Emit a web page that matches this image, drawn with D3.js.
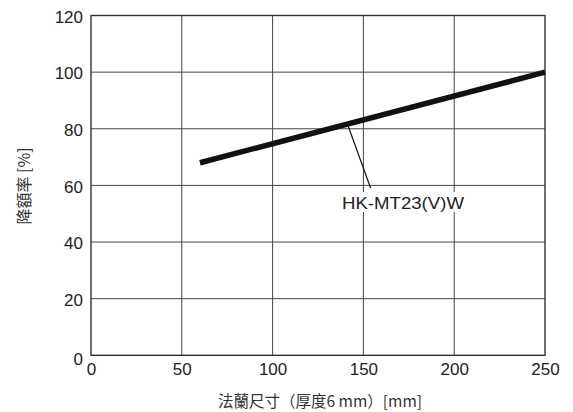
<!DOCTYPE html>
<html><head><meta charset="utf-8">
<script src="https://cdn.jsdelivr.net/npm/d3@7"></script>
<style>body{margin:0;background:#fff}svg{display:block}</style>
</head><body>
<div id="chart"></div>
<script>
const xTicks = [0, 50, 100, 150, 200, 250];
const yTicks = [0, 20, 40, 60, 80, 100, 120];
const seriesX = [60, 250];
const seriesY = [68, 100];
const seriesName = "HK-MT23(V)W";
const leaderX = [141.7, 154];
const leaderY = [80.8, 59];
const xTitle = "法蘭尺寸（厚度6 mm）[mm]";
const yTitle = "降額率 [%]";

const W = 573, H = 412;
const m = {left: 91, right: 28, top: 15.5, bottom: 56.7};
const svg = d3.select("#chart").append("svg").attr("width", W).attr("height", H);
const x = d3.scaleLinear().domain([0, 250]).range([m.left, W - m.right]);
const y = d3.scaleLinear().domain([0, 120]).range([H - m.bottom, m.top]);

const numFont = "'Liberation Sans', Arial, sans-serif";
const cjkFont = "'Noto Sans CJK TC', 'Noto Sans CJK SC', sans-serif";

// grid
svg.append("g").selectAll("line").data(xTicks.slice(1, -1)).join("line")
  .attr("x1", d => x(d)).attr("x2", d => x(d)).attr("y1", y(0)).attr("y2", y(120))
  .attr("stroke", "#444").attr("stroke-width", 1);
svg.append("g").selectAll("line").data(yTicks.slice(1, -1)).join("line")
  .attr("y1", d => y(d)).attr("y2", d => y(d)).attr("x1", x(0)).attr("x2", x(250))
  .attr("stroke", "#444").attr("stroke-width", 1);

// frame
svg.append("rect").attr("x", x(0)).attr("y", y(120))
  .attr("width", x(250) - x(0)).attr("height", y(0) - y(120))
  .attr("fill", "none").attr("stroke", "#333").attr("stroke-width", 1.4);

// axes labels via d3 axes
const xAxis = svg.append("g").attr("transform", `translate(0,${y(0)})`)
  .call(d3.axisBottom(x).tickValues(xTicks).tickSize(0).tickPadding(8).tickFormat(d3.format("d")));
xAxis.select(".domain").remove();
xAxis.attr("font-family", null).attr("font-size", null);
xAxis.selectAll("text").style("font-family", numFont).style("font-size", "17px").attr("fill", "#222");

const yAxis = svg.append("g").attr("transform", `translate(${x(0)},0)`)
  .call(d3.axisLeft(y).tickValues(yTicks).tickSize(0).tickPadding(8).tickFormat(d3.format("d")));
yAxis.select(".domain").remove();
yAxis.attr("font-family", null).attr("font-size", null);
yAxis.selectAll("text").style("font-family", numFont).style("font-size", "17px").attr("fill", "#222")
  .attr("dy", d => d === 0 ? "0.55em" : "0.4em");

// series line
svg.append("line")
  .attr("x1", x(seriesX[0])).attr("y1", y(seriesY[0]))
  .attr("x2", x(seriesX[1])).attr("y2", y(seriesY[1]))
  .attr("stroke", "#111").attr("stroke-width", 5.5);

// leader
svg.append("line")
  .attr("x1", x(leaderX[0])).attr("y1", y(leaderY[0]))
  .attr("x2", x(leaderX[1])).attr("y2", y(leaderY[1]))
  .attr("stroke", "#111").attr("stroke-width", 1.2);

svg.append("rect").attr("x", 340).attr("y", 192).attr("width", 126).attr("height", 20).attr("fill", "#fff");
svg.append("text").attr("x", 342).attr("y", 209)
  .style("font-family", numFont).style("font-size", "17px").attr("fill", "#222")
  .attr("textLength", 122).attr("lengthAdjust", "spacingAndGlyphs").text(seriesName);

// titles
svg.append("text").attr("x", (x(0) + x(250)) / 2 + 2).attr("y", 407)
  .attr("text-anchor", "middle").style("font-family", cjkFont).style("font-size", "15.5px")
  .attr("fill", "#333").text(xTitle);
svg.append("text").attr("transform", `translate(30,186) rotate(-90)`)
  .attr("text-anchor", "middle").style("font-family", cjkFont).style("font-size", "16px")
  .attr("fill", "#333").text(yTitle);
</script>
</body></html>
